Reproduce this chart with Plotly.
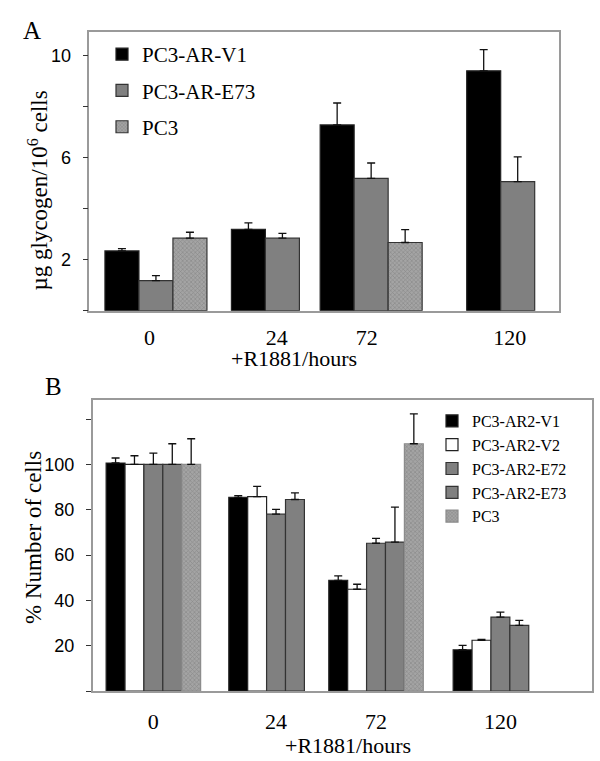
import plotly.graph_objects as go

# ---------------- data ----------------
hours = ["0", "24", "72", "120"]

# Panel A: ug glycogen / 10^6 cells
a_names = ["PC3-AR-V1", "PC3-AR-E73", "PC3"]
a_v1 = [2.34, 3.18, 7.27, 9.39]
a_v1_err = [0.09, 0.26, 0.86, 0.83]
a_e73 = [1.18, 2.84, 5.18, 5.05]
a_e73_err = [0.19, 0.19, 0.60, 0.97]
a_pc3 = [2.84, None, 2.67, None]
a_pc3_err = [0.23, None, 0.50, None]

# Panel B: % number of cells
b_names = ["PC3-AR2-V1", "PC3-AR2-V2", "PC3-AR2-E72", "PC3-AR2-E73", "PC3"]
b_v1 = [100.6, 85.4, 48.8, 18.2]
b_v1_err = [2.2, 0.8, 2.0, 1.9]
b_v2 = [100.0, 85.8, 44.9, 22.4]
b_v2_err = [3.8, 4.5, 2.2, 0.4]
b_e72 = [100.0, 78.0, 65.2, 32.6]
b_e72_err = [5.0, 2.1, 2.1, 2.2]
b_e73 = [100.0, 84.5, 65.7, 29.0]
b_e73_err = [9.1, 2.9, 15.4, 2.2]
b_pc3 = [100.0, None, 109.1, None]
b_pc3_err = [11.3, None, 13.2, None]

a_ticks = [2, 6, 10]
b_ticks = [20, 40, 60, 80, 100]

# ---------------- layout constants ----------------
W, H = 600, 761
SERIF = "Liberation Serif"
SANS = "Liberation Sans"

# group centre positions on the x axes (in bar-width units)
a_pos = [1.96, 5.68, 8.29, 12.60]
a_tickpos = [1.77, 5.51, 8.16, 12.37]
a_xrange = [0, 13.815]
b_pos = [3.21, 9.70, 14.99, 21.57]
b_xrange = [0, 26.40]

pattern_pc3 = dict(shape="x", size=3, solidity=0.35, fgcolor="#6a6a6a", bgcolor="#a4a4a4")

fig = go.Figure()

def add_bars(vals, errs, name, pos, offset, xa, ya, color, line_color, legend, pattern=None):
    marker = dict(color=color, line=dict(color=line_color, width=1.2))
    if pattern is not None:
        marker["pattern"] = pattern
    fig.add_trace(go.Bar(
        x=pos, y=vals, name=name, width=1, offset=offset,
        marker=marker, xaxis=xa, yaxis=ya, legend=legend, legendgroup=legend + name,
        error_y=dict(type="data", array=errs, arrayminus=[0] * len(errs), symmetric=False,
                     color="#111111", thickness=1.3, width=4),
        hovertext=hours,
    ))

# Panel A
add_bars(a_v1, a_v1_err, a_names[0], a_pos, -1.5, "x", "y", "#000000", "#222222", "legend")
add_bars(a_e73, a_e73_err, a_names[1], a_pos, -0.5, "x", "y", "#808080", "#333333", "legend")
add_bars(a_pc3, a_pc3_err, a_names[2], a_pos, 0.5, "x", "y", "#a4a4a4", "#333333", "legend", pattern_pc3)

# Panel B
add_bars(b_v1, b_v1_err, b_names[0], b_pos, -2.5, "x2", "y2", "#000000", "#222222", "legend2")
add_bars(b_v2, b_v2_err, b_names[1], b_pos, -1.5, "x2", "y2", "#ffffff", "#222222", "legend2")
add_bars(b_e72, b_e72_err, b_names[2], b_pos, -0.5, "x2", "y2", "#808080", "#333333", "legend2")
add_bars(b_e73, b_e73_err, b_names[3], b_pos, 0.5, "x2", "y2", "#808080", "#333333", "legend2")
add_bars(b_pc3, b_pc3_err, b_names[4], b_pos, 1.5, "x2", "y2", "#a0a0a0", "#8c8c8c", "legend2", pattern_pc3)

frame = dict(showline=True, linecolor="#9a9a9a", linewidth=1.5, mirror=True, showgrid=False, zeroline=False)

def ann(text, x, y, size, angle=0):
    return dict(text=text, x=x / W, y=1 - y / H, xref="paper", yref="paper", showarrow=False,
                xanchor="center", yanchor="middle", textangle=angle,
                font=dict(family=SERIF, size=size, color="black"))

fig.update_layout(
    width=W, height=H,
    margin=dict(l=0, r=0, t=0, b=0),
    paper_bgcolor="white", plot_bgcolor="white",
    barmode="overlay",
    showlegend=True,
    xaxis=dict(domain=[89.3 / W, 559 / W], anchor="y", range=a_xrange,
               tickmode="array", tickvals=a_tickpos, ticktext=hours, ticks="",
               tickfont=dict(family=SERIF, size=22, color="black"), ticklabelstandoff=6, **frame),
    yaxis=dict(domain=[1 - 310.7 / H, 1 - 31.7 / H], anchor="x", range=[0, 10.92],
               tickmode="array", tickvals=a_ticks, ticks="outside",
               ticklen=5, tickcolor="#333333", tickwidth=1.2,
               minor=dict(tickmode="linear", tick0=0, dtick=2, ticks="outside", ticklen=5,
                          tickcolor="#333333", tickwidth=1.2, showgrid=False),
               tickfont=dict(family=SANS, size=18, color="black"), ticklabelstandoff=8, **frame),
    xaxis2=dict(domain=[92.7 / W, 591.7 / W], anchor="y2", range=b_xrange,
                tickmode="array", tickvals=b_pos, ticktext=hours, ticks="",
                tickfont=dict(family=SERIF, size=22, color="black"), ticklabelstandoff=10, **frame),
    yaxis2=dict(domain=[1 - 691 / H, 1 - 400 / H], anchor="x2", range=[0, 128.4],
                tickmode="array", tickvals=b_ticks, ticks="outside",
                ticklen=5, tickcolor="#333333", tickwidth=1.2,
                minor=dict(tickmode="linear", tick0=0, dtick=20, ticks="outside", ticklen=5,
                           tickcolor="#333333", tickwidth=1.2, showgrid=False),
                tickfont=dict(family=SANS, size=18, color="black"), ticklabelstandoff=8, **frame),
    legend=dict(x=102 / W, y=1 - 34 / H, xanchor="left", yanchor="top",
                bgcolor="rgba(0,0,0,0)", font=dict(family=SERIF, size=21, color="black"),
                tracegroupgap=6, itemclick=False),
    legend2=dict(x=432 / W, y=1 - 404 / H, xanchor="left", yanchor="top",
                 bgcolor="rgba(0,0,0,0)", font=dict(family=SERIF, size=16, color="black"),
                 tracegroupgap=0, itemclick=False),
    annotations=[
        ann("A", 31.7, 30.8, 25),
        ann("B", 53, 386, 25),
        ann("µg glycogen/10<sup>6</sup> cells", 37.5, 191, 23, -90),
        ann("% Number of cells", 33.5, 537.5, 23, -90),
        ann("+R1881/hours", 294, 358, 22),
        ann("+R1881/hours", 348.3, 745.7, 22),
    ],
)

fig.write_html("out.html", config={"displayModeBar": False},
               post_script="document.body.style.margin='0';")
